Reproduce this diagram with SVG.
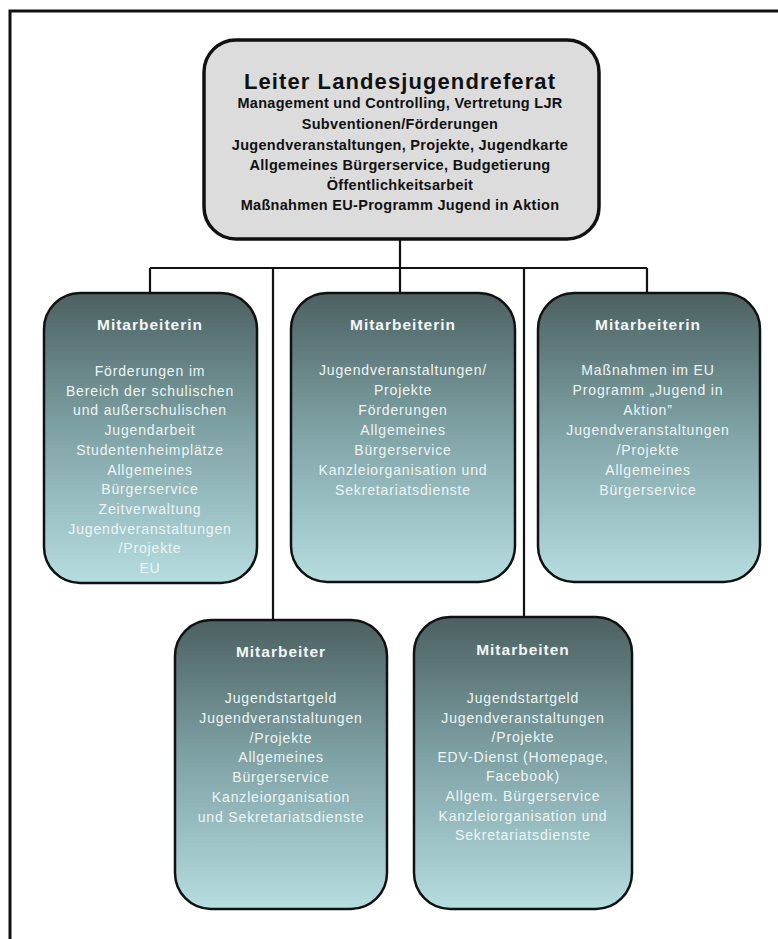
<svg xmlns="http://www.w3.org/2000/svg" width="778" height="939" viewBox="0 0 778 939">
<defs>
<linearGradient id="g" x1="0" y1="0" x2="0" y2="1">
<stop offset="0" stop-color="#4c6060"/>
<stop offset="0.45" stop-color="#7c9fa2"/>
<stop offset="1" stop-color="#b6dde0"/>
</linearGradient>
<style>
.box{fill:url(#g);stroke:#111;stroke-width:2.5}
.top{fill:#dcdcdc;stroke:#111;stroke-width:3.5}
.con{fill:none;stroke:#111;stroke-width:2.2}
.t{font-family:"Liberation Sans",Arial,sans-serif;text-anchor:middle}
.h{font-size:22px;font-weight:bold;fill:#111;letter-spacing:1.1px}
.s{font-size:14.5px;font-weight:bold;fill:#111;letter-spacing:0.3px}
.bt{font-size:15.5px;font-weight:bold;fill:#f2f6f6;letter-spacing:1px}
.b{font-size:14px;fill:#eef5f5;letter-spacing:0.85px}
</style>
</defs>
<rect width="778" height="939" fill="#fff"/>
<path d="M10,939 V11 H778" fill="none" stroke="#111" stroke-width="3"/>
<g id="connectors" class="con">
<path d="M400,240 V268"/>
<path d="M150,268 H647"/>
<path d="M150,268 V293"/>
<path d="M400,268 V293"/>
<path d="M647,268 V293"/>
<path d="M273,268 V620"/>
<path d="M524,268 V617"/>
</g>
<g id="leiter">
<rect class="top" x="204" y="40" width="395" height="199" rx="32"/>
<text class="t h" x="400" y="89">Leiter Landesjugendreferat</text>
<text class="t s" x="400" y="108">Management und Controlling, Vertretung LJR</text>
<text class="t s" x="400" y="129">Subventionen/Förderungen</text>
<text class="t s" x="400" y="150">Jugendveranstaltungen, Projekte, Jugendkarte</text>
<text class="t s" x="400" y="170">Allgemeines Bürgerservice, Budgetierung</text>
<text class="t s" x="400" y="190">Öffentlichkeitsarbeit</text>
<text class="t s" x="400" y="210">Maßnahmen EU-Programm Jugend in Aktion</text>
</g>
<g id="m1">
<rect class="box" x="44" y="293" width="213" height="290" rx="36"/>
<text class="t bt" x="150" y="330">Mitarbeiterin</text>
<text class="t b" x="150" y="376">Förderungen im</text>
<text class="t b" x="150" y="395.7">Bereich der schulischen</text>
<text class="t b" x="150" y="415.4">und außerschulischen</text>
<text class="t b" x="150" y="435.1">Jugendarbeit</text>
<text class="t b" x="150" y="454.8">Studentenheimplätze</text>
<text class="t b" x="150" y="474.5">Allgemeines</text>
<text class="t b" x="150" y="494.2">Bürgerservice</text>
<text class="t b" x="150" y="513.9">Zeitverwaltung</text>
<text class="t b" x="150" y="533.6">Jugendveranstaltungen</text>
<text class="t b" x="150" y="553.3">/Projekte</text>
<text class="t b" x="150" y="573">EU</text>
</g>
<g id="m2">
<rect class="box" x="291" y="293" width="224" height="289" rx="36"/>
<text class="t bt" x="403" y="330">Mitarbeiterin</text>
<text class="t b" x="403" y="375">Jugendveranstaltungen/</text>
<text class="t b" x="403" y="395">Projekte</text>
<text class="t b" x="403" y="415">Förderungen</text>
<text class="t b" x="403" y="435">Allgemeines</text>
<text class="t b" x="403" y="455">Bürgerservice</text>
<text class="t b" x="403" y="475">Kanzleiorganisation und</text>
<text class="t b" x="403" y="495">Sekretariatsdienste</text>
</g>
<g id="m3">
<rect class="box" x="538" y="293" width="222" height="289" rx="36"/>
<text class="t bt" x="648" y="330">Mitarbeiterin</text>
<text class="t b" x="648" y="375">Maßnahmen im EU</text>
<text class="t b" x="648" y="395">Programm „Jugend in</text>
<text class="t b" x="648" y="415">Aktion”</text>
<text class="t b" x="648" y="435">Jugendveranstaltungen</text>
<text class="t b" x="648" y="455">/Projekte</text>
<text class="t b" x="648" y="475">Allgemeines</text>
<text class="t b" x="648" y="495">Bürgerservice</text>
</g>
<g id="m4">
<rect class="box" x="175" y="620" width="212" height="289" rx="36"/>
<text class="t bt" x="281" y="657">Mitarbeiter</text>
<text class="t b" x="281" y="703">Jugendstartgeld</text>
<text class="t b" x="281" y="722.8">Jugendveranstaltungen</text>
<text class="t b" x="281" y="742.6">/Projekte</text>
<text class="t b" x="281" y="762.4">Allgemeines</text>
<text class="t b" x="281" y="782.2">Bürgerservice</text>
<text class="t b" x="281" y="802">Kanzleiorganisation</text>
<text class="t b" x="281" y="821.8">und Sekretariatsdienste</text>
</g>
<g id="m5">
<rect class="box" x="414" y="617" width="218" height="292" rx="36"/>
<text class="t bt" x="523" y="655">Mitarbeiten</text>
<text class="t b" x="523" y="703">Jugendstartgeld</text>
<text class="t b" x="523" y="722.6">Jugendveranstaltungen</text>
<text class="t b" x="523" y="742.2">/Projekte</text>
<text class="t b" x="523" y="761.8">EDV-Dienst (Homepage,</text>
<text class="t b" x="523" y="781.4">Facebook)</text>
<text class="t b" x="523" y="801">Allgem. Bürgerservice</text>
<text class="t b" x="523" y="820.6">Kanzleiorganisation und</text>
<text class="t b" x="523" y="840.2">Sekretariatsdienste</text>
</g>
</svg>
